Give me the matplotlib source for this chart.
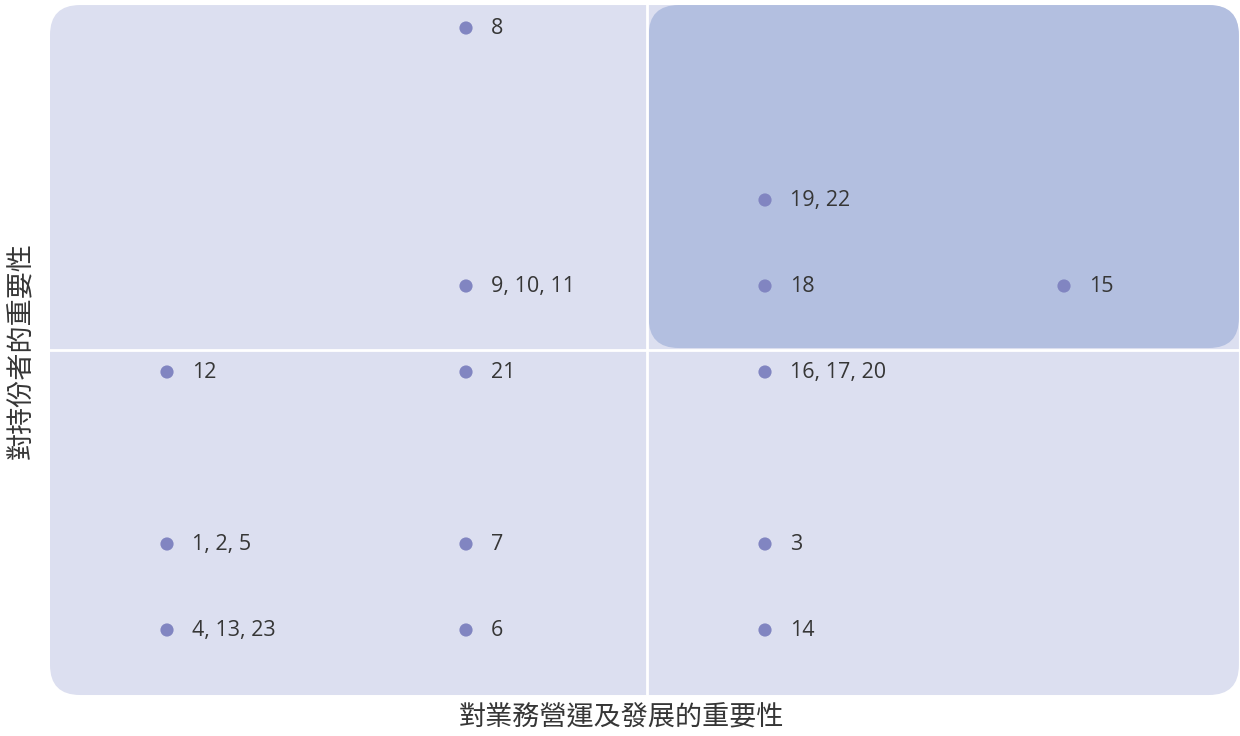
import matplotlib
matplotlib.use("Agg")
import matplotlib.pyplot as plt
from matplotlib.patches import FancyBboxPatch

plt.rcParams['font.family'] = ['Noto Sans CJK TC', 'DejaVu Sans']

# Data: (business importance level, stakeholder importance level, topic numbers)
x_vals = [1, 1, 1, 2, 2, 2, 2, 2, 3, 3, 3, 3, 3, 4]
y_vals = [4, 2, 1, 8, 5, 4, 2, 1, 6, 5, 4, 2, 1, 5]
labels = ["12", "1, 2, 5", "4, 13, 23", "8", "9, 10, 11", "21", "7", "6",
          "19, 22", "18", "16, 17, 20", "3", "14", "15"]

x_title = "對業務營運及發展的重要性"
y_title = "對持份者的重要性"

x_split = 2.604
y_split = 4.256

LIGHT = "#dcdff0"
DARK = "#b3bfe0"
DOT = "#8185c1"
TXT = "#363636"

fig = plt.figure(figsize=(12.4, 7.36), dpi=100)
ax = fig.add_axes([0, 0, 1, 1])
xmin, xmax = 1 - 167 / 299, 1 + 1073 / 299
ymin, ymax = 1 - 106 / 86, 1 + 630 / 86
ax.set_xlim(xmin, xmax)
ax.set_ylim(ymin, ymax)
ax.axis("off")

aspect = 299 / 86
r = 30 / 299

bg = FancyBboxPatch((0.6087, 0.244), 4.585 - 0.6087, 8.267 - 0.244,
                    boxstyle=f"round,pad=0,rounding_size={r}",
                    mutation_aspect=aspect, facecolor=LIGHT, edgecolor="none", zorder=0)
ax.add_patch(bg)
hi = FancyBboxPatch((2.611, 4.279), 4.585 - 2.611, 8.267 - 4.279,
                    boxstyle=f"round,pad=0,rounding_size={r}",
                    mutation_aspect=aspect, facecolor=DARK, edgecolor="none", zorder=1)
ax.add_patch(hi)

ax.axvline(x_split, color="white", lw=2, zorder=2)
ax.axhline(y_split, color="white", lw=2, zorder=2)

ax.scatter(x_vals, y_vals, s=90, color=DOT, zorder=3, edgecolors="none")
for x, y, lab in zip(x_vals, y_vals, labels):
    ax.annotate(lab, (x, y), xytext=(18, -0.5), textcoords="offset points",
                ha="left", va="center", fontsize=15.5, color=TXT, zorder=4,
                family=["Open Sans", "Noto Sans CJK TC"])

fig.text(621 / 1240, 1 - 718 / 736, x_title, ha="center", va="center",
         fontsize=19.5, color=TXT)
fig.text(22 / 1240, 1 - 350 / 736, y_title, ha="center", va="center",
         rotation=90, fontsize=19.5, color=TXT)

fig.savefig("out.png", dpi=100)
